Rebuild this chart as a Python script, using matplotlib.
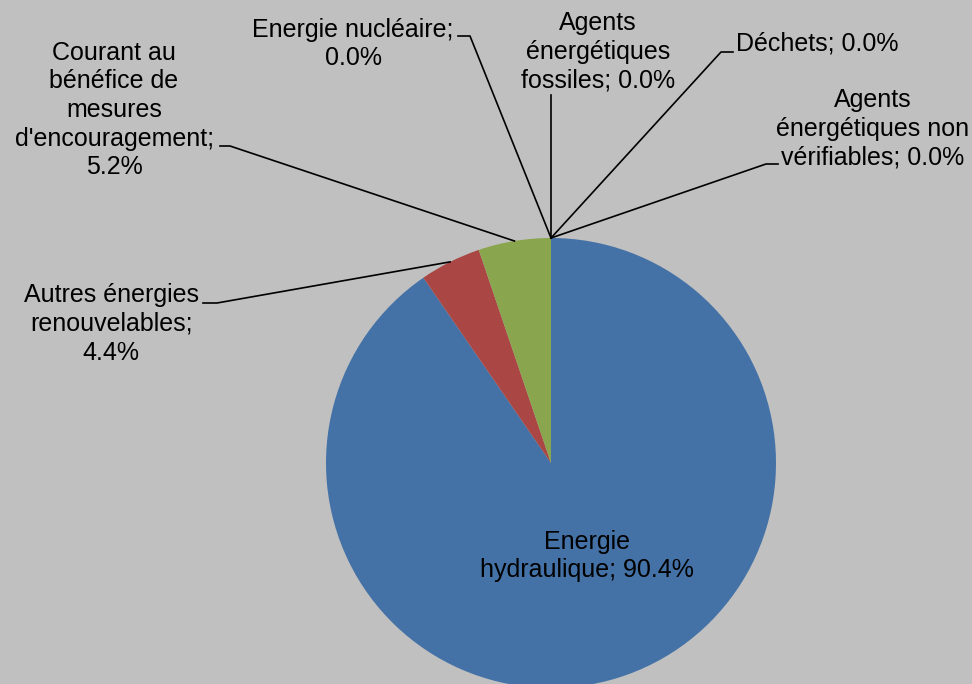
import matplotlib
matplotlib.use('Agg')
import matplotlib.pyplot as plt
import numpy as np

plt.rcParams['font.family'] = ['Liberation Sans', 'DejaVu Sans']

categories = ['Energie\nhydraulique', 'Autres énergies\nrenouvelables', "Courant au\nbénéfice de\nmesures\nd'encouragement",
              'Energie nucléaire', 'Agents\nénergétiques\nfossiles', 'Déchets', 'Agents\nénergétiques non\nvérifiables']
values = [90.4, 4.4, 5.2, 0.0, 0.0, 0.0, 0.0]
colors = ['#4472A6', '#AA4744', '#89A54E', '#7F5F9F', '#4BACC6', '#F79646', '#2C4D75']

label_text = ['Energie\nhydraulique; 90.4%',
              'Autres énergies\nrenouvelables;\n4.4%',
              "Courant au\nbénéfice de\nmesures\nd'encouragement;\n5.2%",
              'Energie nucléaire;\n0.0%',
              'Agents\nénergétiques\nfossiles; 0.0%',
              'Déchets; 0.0%',
              'Agents\nénergétiques non\nvérifiables; 0.0%']

W, H = 972, 684
cx, cy, r = 551, H - 463, 225

# label layout (pixel positions, y from top): text centre, leader stub (x0, x1, y)
text_pos = [(587, 556), (111, 324), (114, 110), (353, 44), (598, 52), (817, 44), (873, 129)]
stubs = [None, (203, 217, 303), (220, 230, 146), (458, 470, 36), None, (721, 733, 52), (766, 778, 164)]

fig = plt.figure(figsize=(W / 100, H / 100), dpi=100)
fig.patch.set_facecolor('#C0C0C0')
ax = fig.add_axes([0, 0, 1, 1])
ax.set_facecolor('#C0C0C0')

wedges, _ = ax.pie(values, colors=colors, startangle=90, counterclock=False,
                   center=(cx, cy), radius=r, wedgeprops=dict(linewidth=0))
ax.set_xlim(0, W)
ax.set_ylim(0, H)
ax.set_aspect('equal')
ax.axis('off')

for i, w in enumerate(wedges):
    tx, ty = text_pos[i]
    ax.text(tx, H - ty, label_text[i], ha='center', va='center', fontsize=18,
            color='black', linespacing=1.25)
    theta = np.deg2rad((w.theta1 + w.theta2) / 2)
    ax_pt = (cx + r * np.cos(theta), cy + r * np.sin(theta))
    if i == 0:
        continue
    if stubs[i] is None:
        # vertical leader straight down from label
        ax.plot([ax_pt[0], ax_pt[0]], [H - 95, ax_pt[1]], color='black', lw=1.2)
        continue
    x0, x1, sy = stubs[i]
    if x1 < ax_pt[0]:
        xs = [x0, x1, ax_pt[0]]
    else:
        xs = [x1, x0, ax_pt[0]]
    ax.plot(xs, [H - sy, H - sy, ax_pt[1]], color='black', lw=1.2)

plt.savefig('out.png', dpi=100, facecolor=fig.get_facecolor())
